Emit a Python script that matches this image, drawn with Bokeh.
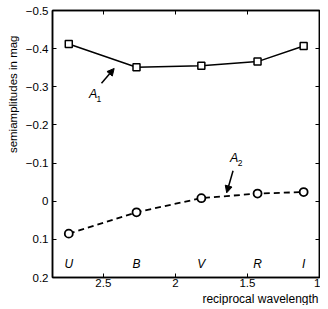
from bokeh.plotting import figure
from bokeh.models import (Range1d, LinearAxis, FixedTicker, CustomJSTickFormatter,
                          Label, Arrow, NormalHead, ColumnDataSource, Title)
from bokeh.core.properties import value
from bokeh.embed import file_html
from bokeh.resources import INLINE

# ---- data ----
bands = ["U", "B", "V", "R", "I"]
recip_wavelength = [2.74, 2.27, 1.82, 1.43, 1.11]
A1 = [-0.412, -0.351, -0.355, -0.366, -0.407]
A2 = [0.085, 0.029, -0.008, -0.020, -0.024]
x_ticks = [2.5, 2.0, 1.5, 1.0]
y_ticks = [-0.5, -0.4, -0.3, -0.2, -0.1, 0.0, 0.1, 0.2]

FONT = "Liberation Sans"

p = figure(frame_width=267, frame_height=267, output_backend="svg", toolbar_location=None,
           x_range=Range1d(2.853, 1.0), y_range=Range1d(0.2, -0.5),
           min_border_left=52, min_border_right=1, min_border_top=10, min_border_bottom=0,
           background_fill_color="white", border_fill_color="white")
p.grid.visible = False
p.outline_line_color = "black"
p.outline_line_width = 1.5

xfmt = CustomJSTickFormatter(code="return String(parseFloat(tick.toFixed(2)));")
yfmt = CustomJSTickFormatter(code="var s = (Math.abs(tick) < 1e-9) ? '0' : tick.toFixed(1); return s.replace('-', '\u2212');")
blank = CustomJSTickFormatter(code="return '';")

def style_axis(ax, ticks, fmt, show_labels, standoff):
    ax.ticker = FixedTicker(ticks=ticks)
    ax.formatter = fmt
    ax.major_tick_in = 4
    ax.major_tick_out = 0
    ax.minor_tick_line_color = None
    ax.axis_line_width = 1.5
    ax.axis_line_color = "black"
    ax.major_tick_line_color = "black"
    ax.major_tick_line_width = 1
    ax.major_label_standoff = standoff
    ax.major_label_text_font = FONT
    ax.major_label_text_color = "black"
    ax.major_label_text_font_size = "11.5px" if show_labels else "1px"
    ax.axis_label = None

style_axis(p.xaxis[0], x_ticks, xfmt, True, 1)
style_axis(p.yaxis[0], y_ticks, yfmt, True, 4)
top = LinearAxis()
right = LinearAxis()
style_axis(top, x_ticks, blank, False, 0)
style_axis(right, y_ticks, blank, False, 0)
p.add_layout(top, "above")
p.add_layout(right, "right")

# axis titles
p.add_layout(Title(text="semiamplitudes in mag", align="right", offset=25, standoff=8,
                   vertical_align="bottom",
                   text_font=FONT, text_font_size="11.5px", text_font_style="normal",
                   text_color="black"), "left")
p.add_layout(Title(text="reciprocal wavelength", align="right", offset=1, standoff=0,
                   text_font=FONT, text_font_size="12px", text_font_style="normal",
                   text_color="black"), "below")

src = ColumnDataSource(dict(x=recip_wavelength, a1=A1, a2=A2, band=bands))

p.line("x", "a1", source=src, line_color="black", line_width=1.5)
p.scatter("x", "a1", source=src, marker="square", size=7, fill_color="white",
          line_color="black", line_width=1.5)
p.line("x", "a2", source=src, line_color="black", line_width=1.8, line_dash="6 4")
p.scatter("x", "a2", source=src, marker="circle", size=8, fill_color="white",
          line_color="black", line_width=1.8)

# band letters
band_y = 0.165
p.text(x="x", y=band_y, text="band", source=src, text_font=value(FONT),
       text_font_style="italic", text_font_size="12px", text_align="center",
       text_baseline="middle", text_color="black")

# annotations
def add_A(xa, ya, xs, ys, sub):
    p.add_layout(Label(x=xa, y=ya, text="A", text_font=FONT, text_font_style="italic",
                       text_font_size="12.5px", text_align="center", text_baseline="middle",
                       text_color="black"))
    p.add_layout(Label(x=xs, y=ys, text=sub, text_font=FONT, text_font_size="8.5px",
                       text_align="center", text_baseline="middle", text_color="black"))

add_A(2.571, -0.281, 2.531, -0.269, "1")
add_A(1.592, -0.113, 1.551, -0.101, "2")

p.add_layout(Arrow(x_start=2.513, y_start=-0.309, x_end=2.425, y_end=-0.348,
                   line_color="black", line_width=1.5,
                   end=NormalHead(size=7, fill_color="black", line_color="black")))
p.add_layout(Arrow(x_start=1.600, y_start=-0.080, x_end=1.644, y_end=-0.022,
                   line_color="black", line_width=1.5,
                   end=NormalHead(size=7, fill_color="black", line_color="black")))

open("out.html", "w").write(file_html(p, INLINE))
